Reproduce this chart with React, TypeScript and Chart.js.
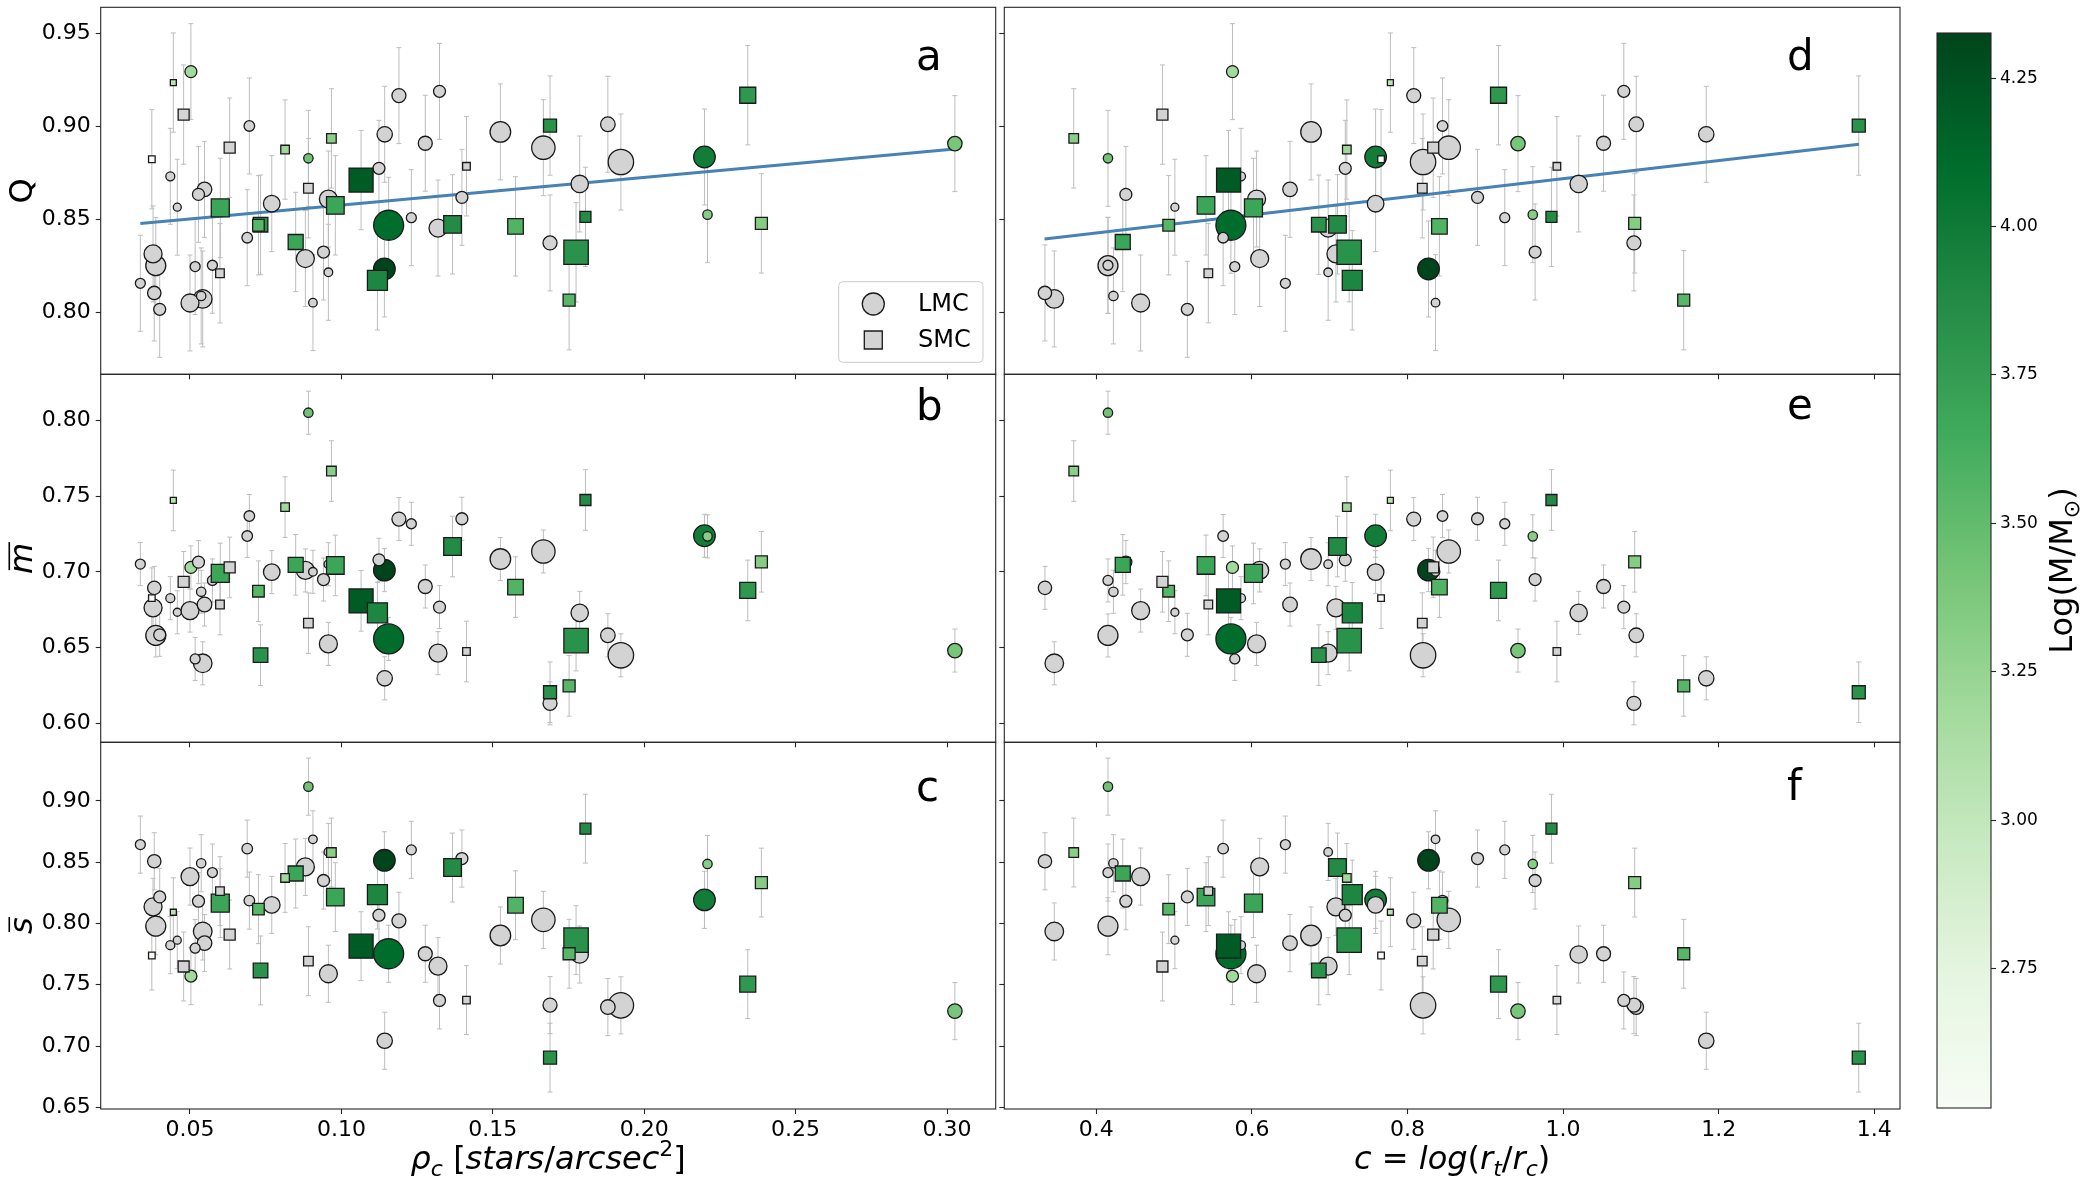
import React, { useEffect, useRef } from 'react';
import { Chart, registerables } from 'chart.js';

Chart.register(...registerables);
Chart.defaults.font.family = '"DejaVu Sans", sans-serif';

if (typeof document !== 'undefined') {
  document.body.style.margin = '0';
}

const W = 2083;
const H = 1186;

// ---------------- DATA (one entry per cluster) ----------------
const clusterCloud = [
  'LMC', 'LMC', 'LMC', 'LMC', 'LMC', 'SMC', 'LMC', 'SMC', 'LMC', 'SMC',
  'LMC', 'LMC', 'LMC', 'LMC', 'LMC', 'LMC', 'LMC', 'SMC', 'SMC', 'SMC',
  'LMC', 'LMC', 'SMC', 'LMC', 'SMC', 'SMC', 'LMC', 'LMC', 'SMC', 'LMC',
  'LMC', 'LMC', 'LMC', 'SMC', 'SMC', 'SMC', 'LMC', 'LMC', 'LMC', 'LMC',
  'SMC', 'LMC', 'LMC', 'LMC', 'LMC', 'LMC', 'SMC', 'LMC', 'SMC', 'LMC',
  'SMC', 'LMC', 'LMC', 'SMC', 'LMC', 'LMC', 'LMC', 'SMC', 'SMC', 'SMC',
  'LMC', 'LMC', 'SMC', 'SMC', 'LMC', 'LMC', 'SMC',
];

const rhoC = [
  0.0336, 0.0378, 0.0387, 0.0382, 0.0400, 0.0374, 0.0435, 0.0445, 0.0458, 0.0479,
  0.0503, 0.0500, 0.0542, 0.0517, 0.0528, 0.0548, 0.0574, 0.0599, 0.0600, 0.0631,
  0.0696, 0.0689, 0.0733, 0.0770, 0.0814, 0.0849, 0.0881, 0.0891, 0.0891, 0.0906,
  0.0941, 0.0957, 0.0957, 0.0967, 0.0980, 0.1065, 0.1124, 0.1143, 0.1156, 0.1142,
  0.1119, 0.1190, 0.1231, 0.1277, 0.1319, 0.1324, 0.1367, 0.1398, 0.1413, 0.1525,
  0.1575, 0.1667, 0.1689, 0.1689, 0.1787, 0.1880, 0.1923, 0.1806, 0.1775, 0.1752,
  0.2199, 0.2209, 0.2342, 0.2387, 0.3026, 0.0537, 0.0726,
];

const concC = [
  0.643, 0.708, 0.415, 0.334, 0.517, 0.766, 0.586, 0.778, 0.501, 0.485,
  0.575, 0.457, 0.346, 0.578, 0.438, 0.649, 0.415, 0.544, 0.602, 0.833,
  0.845, 0.563, 0.686, 0.759, 0.722, 0.434, 0.610, 0.415, 0.819, 0.836,
  0.964, 0.698, 0.606, 0.371, 0.541, 0.570, 0.720, 1.184, 0.573, 0.827,
  0.729, 0.808, 0.925, 1.052, 0.698, 1.078, 0.710, 0.890, 0.992, 0.676,
  0.841, 0.853, 1.091, 1.380, 1.020, 1.094, 0.820, 0.985, 0.725, 1.155,
  0.759, 0.961, 0.917, 1.092, 0.942, 0.422, 0.493,
];

const qVal = [
  0.8156, 0.8314, 0.8251, 0.8104, 0.8016, 0.8823, 0.8731, 0.9235, 0.8565, 0.9063,
  0.9294, 0.8050, 0.8072, 0.8246, 0.8634, 0.8661, 0.8253, 0.8210, 0.8561, 0.8885,
  0.9002, 0.8401, 0.8471, 0.8584, 0.8875, 0.8378, 0.8289, 0.8828, 0.8667, 0.8052,
  0.8324, 0.8215, 0.8609, 0.8935, 0.8575, 0.8711, 0.8774, 0.8957, 0.8468, 0.8233,
  0.8172, 0.9165, 0.8509, 0.8909, 0.8453, 0.9188, 0.8473, 0.8618, 0.8785, 0.8970,
  0.8462, 0.8885, 0.8373, 0.9004, 0.8690, 0.9011, 0.8808, 0.8513, 0.8323, 0.8065,
  0.8835, 0.8525, 0.9167, 0.8478, 0.8907, 0.8088, 0.8468,
];

const mVal = [
  0.7051, 0.6762, 0.6580, 0.6894, 0.6584, 0.6826, 0.6826, 0.7471, 0.6733, 0.6934,
  0.7029, 0.6744, 0.6396, 0.6425, 0.7064, 0.6784, 0.6943, 0.6784, 0.6989, 0.7029,
  0.7368, 0.7236, 0.6450, 0.6998, 0.7427, 0.7046, 0.7009, 0.8050, 0.6661, 0.7000,
  0.6949, 0.7050, 0.6524, 0.7665, 0.7042, 0.6808, 0.7079, 0.6297, 0.6557, 0.7011,
  0.6729, 0.7348, 0.7317, 0.6903, 0.6463, 0.6767, 0.7167, 0.7350, 0.6474, 0.7084,
  0.6899, 0.7134, 0.6132, 0.6205, 0.6729, 0.6581, 0.6449, 0.7474, 0.6546, 0.6247,
  0.7238, 0.7234, 0.6877, 0.7066, 0.6480, 0.6868, 0.6872,
];

const sVal = [
  0.8644, 0.8136, 0.7978, 0.8508, 0.8217, 0.7739, 0.7823, 0.8092, 0.7864, 0.7649,
  0.7571, 0.8383, 0.7935, 0.7799, 0.8182, 0.7840, 0.8416, 0.8264, 0.8166, 0.7910,
  0.8187, 0.8611, 0.7617, 0.8152, 0.8372, 0.8408, 0.8462, 0.9117, 0.7693, 0.8687,
  0.8351, 0.8584, 0.7590, 0.8579, 0.8215, 0.7815, 0.8068, 0.7043, 0.7753, 0.8516,
  0.8236, 0.8022, 0.8601, 0.7753, 0.7652, 0.7372, 0.8457, 0.8530, 0.7375, 0.7902,
  0.8149, 0.8030, 0.7334, 0.6905, 0.7747, 0.7318, 0.7332, 0.8774, 0.7864, 0.7753,
  0.8193, 0.8486, 0.7505, 0.8334, 0.7285, 0.8492, 0.8117,
];

// bubble size variable (marker radius / half side in px)
const markerSz = [
  5, 9, 10, 6.7, 6, 3.3, 4.5, 3, 4, 5.5,
  6, 9, 9.3, 5, 6, 7.3, 5, 4.3, 9, 5.5,
  5.3, 5.3, 7.3, 8.3, 4.3, 7.5, 9, 4.7, 4.8, 4.3,
  6, 4.3, 9, 4.8, 8.8, 12, 6, 7.7, 15, 10.8,
  10, 7, 5, 7, 9, 6, 8.8, 6, 3.8, 10.3,
  7.8, 11.7, 7, 6.5, 8.7, 7.3, 12.7, 5.5, 12.2, 6,
  10.8, 4.7, 8, 6, 7.2, 4.7, 5.8,
];

const logMass = [
  null, null, null, null, null, 2.515, null, 3.05, null, null,
  3.19, null, null, null, null, null, null, null, 3.69, null,
  null, null, 3.82, null, 3.2, 3.69, null, 3.44, null, null,
  null, null, null, 3.31, 3.69, 4.2, null, null, 4.1, 4.326,
  3.91, null, null, null, null, null, 3.87, null, null, null,
  3.57, null, null, 3.82, null, null, null, 3.87, 3.82, 3.55,
  3.98, 3.32, 3.78, 3.33, 3.4, null, 3.55,
];

const cloudNames = ['LMC', 'SMC'];
const qErr = [0.0258, 0.0267];
const mErr = [0.0142, 0.02];
const sErr = [0.0233, 0.0281];

const rhoTicks = [0.05, 0.1, 0.15, 0.2, 0.25, 0.3];
const concTicks = [0.4, 0.6, 0.8, 1.0, 1.2, 1.4];
const qTicks = [0.8, 0.85, 0.9, 0.95];
const mTicks = [0.6, 0.65, 0.7, 0.75, 0.8];
const sTicks = [0.65, 0.7, 0.75, 0.8, 0.85, 0.9];
const massTicks = [2.75, 3.0, 3.25, 3.5, 3.75, 4.0, 4.25];

const fitRhoX = [0.0336, 0.3026];
const fitRhoQ = [0.8477, 0.8878];
const fitConcX = [0.3335, 1.3803];
const fitConcQ = [0.8394, 0.8903];

// ---------------- LAYOUT / STYLE ----------------
const COL_X = [[100.7, 995.7], [1004.3, 1900]];
const COL_RANGE = [[0.02051, 0.31608], [0.28175, 1.433]];
const ROW_Y = [[7.3, 374.3], [374.3, 742.3], [742.3, 1109]];
const ROW_RANGE = [[0.76667, 0.96398], [0.58746, 0.83036], [0.6486, 0.9479]];
const CB = { left: 1937, right: 1991, top: 33, bottom: 1108 };
const LETTER_X = [916, 1787];
const LETTER_Y = [[70, 70], [420.3, 419.3], [801.3, 800.3]];
const Y_AXIS_W = 95;
const X_AXIS_H = 50;
const CB_AXIS_W = 50;
const LABEL_PX = 32;

const EDGE = '#1a1a1a';
const GRAY = '#d3d3d3';
const FRAME = '#262626';
const ERRC = '#bdbdbd';
const FIT = '#4682b4';
const FONT = '"DejaVu Sans"';

const GREENS = [
  [247, 252, 245], [229, 245, 224], [199, 233, 192], [161, 217, 155], [116, 196, 118],
  [65, 171, 93], [35, 139, 69], [0, 109, 44], [0, 68, 27],
];

const massVals = logMass.filter((v) => v !== null) as number[];
const MASS_LO = Math.min(...massVals);
const MASS_HI = Math.max(...massVals);

function greens(t: number) {
  const tt = Math.max(0, Math.min(1, t));
  const p = tt * 8;
  const i = Math.min(7, Math.floor(p));
  const f = p - i;
  const a = GREENS[i];
  const b = GREENS[i + 1];
  const c = a.map((v, k) => Math.round(v + (b[k] - v) * f));
  return `rgb(${c[0]},${c[1]},${c[2]})`;
}

function massColor(v: number | null) {
  if (v === null || v === undefined) return GRAY;
  return greens((v - MASS_LO) / (MASS_HI - MASS_LO));
}

type Seg = { t: string; it?: boolean; sub?: boolean; sup?: boolean; bar?: boolean };

function richText(ctx: CanvasRenderingContext2D, segs: Seg[], cx: number, cy: number, size: number, rotate: boolean) {
  ctx.save();
  ctx.translate(cx, cy);
  if (rotate) ctx.rotate(-Math.PI / 2);
  const fontOf = (s: Seg) => `${s.it ? 'italic ' : ''}${s.sub || s.sup ? Math.round(size * 0.7) : size}px ${FONT}`;
  const ws = segs.map((s) => {
    ctx.font = fontOf(s);
    return ctx.measureText(s.t).width;
  });
  const total = ws.reduce((a, b) => a + b, 0);
  let x = -total / 2;
  const base = size * 0.36;
  ctx.fillStyle = '#000';
  ctx.textAlign = 'left';
  ctx.textBaseline = 'alphabetic';
  segs.forEach((s, k) => {
    ctx.font = fontOf(s);
    const dy = s.sub ? size * 0.22 : s.sup ? -size * 0.4 : 0;
    ctx.fillText(s.t, x, base + dy);
    if (s.bar) {
      ctx.fillRect(x + ws[k] * 0.12, base - size * 0.72, ws[k] * 0.9, Math.max(1.2, size * 0.05));
    }
    x += ws[k];
  });
  ctx.restore();
}

const Y_LABELS: Seg[][] = [
  [{ t: 'Q' }],
  [{ t: 'm', it: true, bar: true }],
  [{ t: 's', it: true, bar: true }],
];
const X_LABELS: Seg[][] = [
  [
    { t: 'ρ', it: true }, { t: 'c', it: true, sub: true }, { t: ' [' }, { t: 'stars', it: true },
    { t: '/' }, { t: 'arcsec', it: true }, { t: '2', sup: true }, { t: ']' },
  ],
  [
    { t: 'c', it: true }, { t: ' = ' }, { t: 'log', it: true }, { t: '(' }, { t: 'r', it: true },
    { t: 't', it: true, sub: true }, { t: '/' }, { t: 'r', it: true }, { t: 'c', it: true, sub: true }, { t: ')' },
  ],
];
const CB_LABEL: Seg[] = [{ t: 'Log(M/M' }, { t: '⊙', sub: true }, { t: ')' }];

function fixSize(size: number) {
  return (s: any) => {
    if (s.isHorizontal()) s.height = size;
    else s.width = size;
    s.paddingLeft = 0;
    s.paddingRight = 0;
    s.paddingTop = 0;
    s.paddingBottom = 0;
  };
}

function drawLegend(ctx: CanvasRenderingContext2D) {
  ctx.save();
  const x = 838.7, y = 281.7, w = 144.3, h = 80.6, r = 4;
  ctx.beginPath();
  ctx.moveTo(x + r, y);
  ctx.arcTo(x + w, y, x + w, y + h, r);
  ctx.arcTo(x + w, y + h, x, y + h, r);
  ctx.arcTo(x, y + h, x, y, r);
  ctx.arcTo(x, y, x + w, y, r);
  ctx.closePath();
  ctx.fillStyle = 'rgba(255,255,255,0.8)';
  ctx.fill();
  ctx.strokeStyle = '#cccccc';
  ctx.lineWidth = 1;
  ctx.stroke();
  ctx.fillStyle = GRAY;
  ctx.strokeStyle = EDGE;
  ctx.lineWidth = 1.3;
  ctx.beginPath();
  ctx.arc(873.3, 304, 11, 0, Math.PI * 2);
  ctx.fill();
  ctx.stroke();
  ctx.beginPath();
  ctx.rect(873.3 - 9, 340 - 9, 18, 18);
  ctx.fill();
  ctx.stroke();
  ctx.fillStyle = '#000';
  ctx.font = `24px ${FONT}`;
  ctx.textAlign = 'left';
  ctx.textBaseline = 'alphabetic';
  ctx.fillText(cloudNames[0], 918, 310.5);
  ctx.fillText(cloudNames[1], 918, 346.7);
  ctx.restore();
}

function panelConfig(col: number, row: number) {
  const xs = col === 0 ? rhoC : concC;
  const ys = [qVal, mVal, sVal][row];
  const errs = [qErr, mErr, sErr][row];
  const xTicks = col === 0 ? rhoTicks : concTicks;
  const yTicks = [qTicks, mTicks, sTicks][row];
  const [left, right] = COL_X[col];
  const [top, bottom] = ROW_Y[row];
  const yw = col === 0 ? Y_AXIS_W : 0;
  const xh = row === 2 ? X_AXIS_H : 0;

  const mkSet = (cl: string, order: number) => {
    const I = clusterCloud
      .map((_, i) => i)
      .filter((i) => clusterCloud[i] === cl)
      .sort((a, b) => markerSz[b] - markerSz[a]);
    const sq = cl === 'SMC';
    const radii = I.map((i) => (sq ? markerSz[i] / Math.SQRT1_2 : markerSz[i]));
    return {
      type: 'scatter',
      label: cl,
      data: I.map((i) => ({ x: xs[i], y: ys[i] })),
      pointStyle: sq ? 'rect' : 'circle',
      pointRadius: radii,
      pointHoverRadius: radii,
      pointHitRadius: 0,
      pointBackgroundColor: I.map((i) => massColor(logMass[i])),
      pointBorderColor: EDGE,
      pointBorderWidth: 1.3,
      showLine: false,
      order,
    };
  };

  const datasets: any[] = [mkSet('LMC', 2), mkSet('SMC', 1)];
  if (row === 0) {
    const fx = col === 0 ? fitRhoX : fitConcX;
    const fy = col === 0 ? fitRhoQ : fitConcQ;
    datasets.push({
      type: 'line',
      label: 'fit',
      data: fx.map((x, k) => ({ x, y: fy[k] })),
      borderColor: FIT,
      borderWidth: 3,
      pointRadius: 0,
      fill: false,
      tension: 0,
      order: 3,
    });
  }

  const decor = {
    id: `decor${col}${row}`,
    beforeDatasetsDraw(chart: any) {
      const ctx = chart.ctx;
      const sx = chart.scales.x;
      const sy = chart.scales.y;
      const a = chart.chartArea;
      ctx.save();
      ctx.beginPath();
      ctx.rect(a.left, a.top, a.right - a.left, a.bottom - a.top);
      ctx.clip();
      ctx.strokeStyle = ERRC;
      ctx.lineWidth = 1;
      clusterCloud.forEach((cl, i) => {
        const e = errs[cloudNames.indexOf(cl)];
        const px = sx.getPixelForValue(xs[i]);
        const y1 = sy.getPixelForValue(ys[i] - e);
        const y2 = sy.getPixelForValue(ys[i] + e);
        ctx.beginPath();
        ctx.moveTo(px, y1);
        ctx.lineTo(px, y2);
        ctx.moveTo(px - 2.5, y1);
        ctx.lineTo(px + 2.5, y1);
        ctx.moveTo(px - 2.5, y2);
        ctx.lineTo(px + 2.5, y2);
        ctx.stroke();
      });
      ctx.restore();
    },
    afterDraw(chart: any) {
      const ctx = chart.ctx;
      const a = chart.chartArea;
      ctx.save();
      ctx.strokeStyle = FRAME;
      ctx.lineWidth = 1.1;
      ctx.strokeRect(a.left, a.top, a.right - a.left, a.bottom - a.top);
      ctx.fillStyle = '#000';
      ctx.font = `42px ${FONT}`;
      ctx.textAlign = 'left';
      ctx.textBaseline = 'alphabetic';
      ctx.fillText('abcdef'[col * 3 + row], LETTER_X[col], LETTER_Y[row][col]);
      ctx.restore();
      if (col === 0) richText(ctx, Y_LABELS[row], 20, (top + bottom) / 2, LABEL_PX, true);
      if (row === 2) richText(ctx, X_LABELS[col], (left + right) / 2, 1157, LABEL_PX, false);
      if (col === 0 && row === 0) drawLegend(ctx);
    },
  };

  const tickFmtX = (v: any) => Number(v).toFixed(col === 0 ? 2 : 1);
  return {
    type: 'scatter',
    data: { datasets },
    options: {
      animation: false,
      responsive: false,
      maintainAspectRatio: false,
      devicePixelRatio: 1,
      events: [],
      layout: {
        autoPadding: false,
        padding: { left: left - yw, right: W - right, top, bottom: H - bottom - xh },
      },
      plugins: { legend: { display: false }, tooltip: { enabled: false } },
      scales: {
        x: {
          type: 'linear',
          position: 'bottom',
          min: COL_RANGE[col][0],
          max: COL_RANGE[col][1],
          afterBuildTicks: (s: any) => {
            s.ticks = xTicks.map((v) => ({ value: v }));
          },
          afterFit: fixSize(xh),
          border: { display: false },
          grid: { drawOnChartArea: false, drawTicks: true, tickLength: 5, tickWidth: 1.1, tickColor: FRAME, color: FRAME },
          ticks: {
            display: row === 2,
            autoSkip: false,
            maxRotation: 0,
            padding: 3,
            color: '#000',
            font: { family: FONT, size: 22 },
            callback: tickFmtX,
          },
        },
        y: {
          type: 'linear',
          position: 'left',
          min: ROW_RANGE[row][0],
          max: ROW_RANGE[row][1],
          afterBuildTicks: (s: any) => {
            s.ticks = yTicks.map((v) => ({ value: v }));
          },
          afterFit: fixSize(yw),
          border: { display: false },
          grid: { drawOnChartArea: false, drawTicks: true, tickLength: 5, tickWidth: 1.1, tickColor: FRAME, color: FRAME },
          ticks: {
            display: col === 0,
            autoSkip: false,
            padding: 5,
            color: '#000',
            font: { family: FONT, size: 22 },
            callback: (v: any) => Number(v).toFixed(2),
          },
        },
      },
    },
    plugins: [decor],
  };
}

function colorbarConfig() {
  const decor = {
    id: 'cbdecor',
    afterDraw(chart: any) {
      const ctx = chart.ctx;
      const a = chart.chartArea;
      ctx.save();
      ctx.strokeStyle = FRAME;
      ctx.lineWidth = 1.1;
      ctx.strokeRect(a.left, a.top, a.right - a.left, a.bottom - a.top);
      ctx.restore();
      richText(ctx, CB_LABEL, 2060, (CB.top + CB.bottom) / 2, LABEL_PX, true);
    },
  };
  return {
    type: 'bar',
    data: {
      labels: ['mass'],
      datasets: [
        {
          data: [[MASS_LO, MASS_HI]],
          backgroundColor: (c: any) => {
            const a = c.chart.chartArea;
            if (!a) return greens(0.5);
            const g = c.chart.ctx.createLinearGradient(0, a.bottom, 0, a.top);
            GREENS.forEach((rgb, k) => g.addColorStop(k / 8, `rgb(${rgb[0]},${rgb[1]},${rgb[2]})`));
            return g;
          },
          borderWidth: 0,
          barPercentage: 1,
          categoryPercentage: 1,
          inflateAmount: 0,
        },
      ],
    },
    options: {
      animation: false,
      responsive: false,
      maintainAspectRatio: false,
      devicePixelRatio: 1,
      events: [],
      layout: {
        autoPadding: false,
        padding: { left: CB.left, right: W - CB.right - CB_AXIS_W, top: CB.top, bottom: H - CB.bottom },
      },
      plugins: { legend: { display: false }, tooltip: { enabled: false } },
      scales: {
        x: { display: false, afterFit: fixSize(0) },
        y: {
          type: 'linear',
          position: 'right',
          min: MASS_LO,
          max: MASS_HI,
          afterBuildTicks: (s: any) => {
            s.ticks = massTicks.map((v) => ({ value: v }));
          },
          afterFit: fixSize(CB_AXIS_W),
          border: { display: false },
          grid: { drawOnChartArea: false, drawTicks: true, tickLength: 5, tickWidth: 1.1, tickColor: FRAME, color: FRAME },
          ticks: {
            autoSkip: false,
            padding: 4,
            color: '#000',
            font: { family: FONT, size: 17 },
            callback: (v: any) => Number(v).toFixed(2),
          },
        },
      },
    },
    plugins: [decor],
  };
}

const canvasStyle: React.CSSProperties = {
  position: 'absolute',
  left: 0,
  top: 0,
  width: W,
  height: H,
  display: 'block',
};

function Panel({ col, row }: { col: number; row: number }) {
  const ref = useRef<HTMLCanvasElement>(null);
  useEffect(() => {
    const chart = new Chart(ref.current as HTMLCanvasElement, panelConfig(col, row) as any);
    return () => chart.destroy();
  }, [col, row]);
  return <canvas ref={ref} width={W} height={H} style={canvasStyle} />;
}

function ColorBar() {
  const ref = useRef<HTMLCanvasElement>(null);
  useEffect(() => {
    const chart = new Chart(ref.current as HTMLCanvasElement, colorbarConfig() as any);
    return () => chart.destroy();
  }, []);
  return <canvas ref={ref} width={W} height={H} style={canvasStyle} />;
}

export default function App() {
  return (
    <div style={{ position: 'relative', width: W, height: H, background: '#fff', overflow: 'hidden' }}>
      {[0, 1].map((col) => [0, 1, 2].map((row) => <Panel key={`p${col}${row}`} col={col} row={row} />))}
      <ColorBar />
    </div>
  );
}
